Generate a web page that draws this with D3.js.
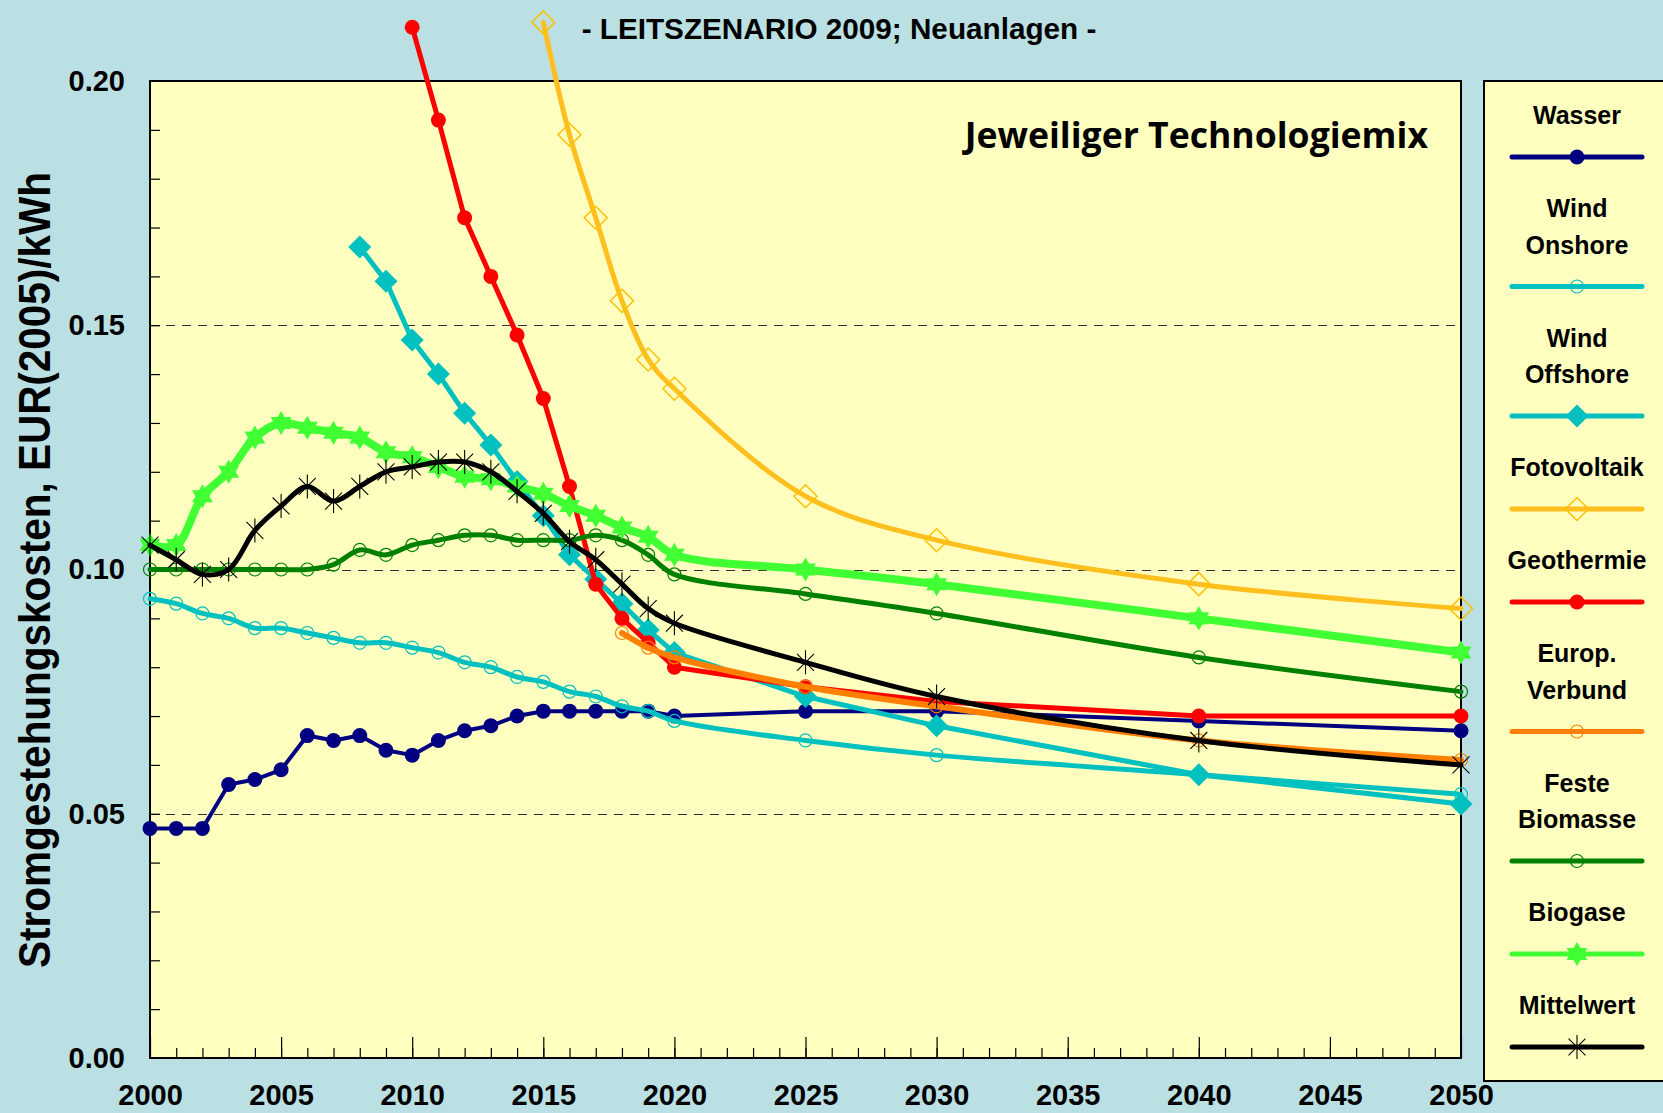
<!DOCTYPE html>
<html>
<head>
<meta charset="utf-8">
<script src="https://cdn.jsdelivr.net/npm/d3@7"></script>
<style>
  body { margin: 0; background: #BBE0E3; }
  svg { display: block; }
  .tick text { font-family: "Liberation Sans", Arial, sans-serif; font-weight: bold; font-size: 29px; fill: #000; }
</style>
</head>
<body>
<div id="chart"></div>
<script>
// years on the x axis (annual until 2020, then scenario steps)
var years = [2000, 2001, 2002, 2003, 2004, 2005, 2006, 2007, 2008, 2009, 2010,
  2011, 2012, 2013, 2014, 2015, 2016, 2017, 2018, 2019, 2020, 2025, 2030, 2040, 2050];

// EUR(2005)/kWh
var wasser = [0.047, 0.047, 0.047, 0.056, 0.057, 0.059, 0.066, 0.065, 0.066, 0.063, 0.062,
  0.065, 0.067, 0.068, 0.070, 0.071, 0.071, 0.071, 0.071, 0.071, 0.070, 0.071, 0.071, 0.069, 0.067];
var windOnshore = [0.094, 0.093, 0.091, 0.090, 0.088, 0.088, 0.087, 0.086, 0.085, 0.085, 0.084,
  0.083, 0.081, 0.080, 0.078, 0.077, 0.075, 0.074, 0.072, 0.071, 0.069, 0.065, 0.062, 0.058, 0.054];
var windOffshore = [null, null, null, null, null, null, null, null, 0.166, 0.159, 0.147,
  0.140, 0.132, 0.1255, 0.118, 0.111, 0.103, 0.098, 0.093, 0.0876, 0.083, 0.074, 0.068, 0.058, 0.052];
var fotovoltaik = [null, null, null, null, null, null, null, null, null, null, null,
  null, null, null, null, 0.212, 0.189, 0.172, 0.155, 0.143, 0.137, 0.115, 0.106, 0.097, 0.092];
var geothermie = [null, null, null, null, null, null, null, null, null, null, 0.211,
  0.192, 0.172, 0.160, 0.148, 0.135, 0.117, 0.097, 0.090, 0.085, 0.080, 0.076, 0.073, 0.070, 0.070];
var europVerbund = [null, null, null, null, null, null, null, null, null, null, null,
  null, null, null, null, null, null, null, 0.087, 0.084, 0.082, 0.076, 0.072, 0.065, 0.061];
var festeBiomasse = [0.100, 0.100, 0.100, 0.100, 0.100, 0.100, 0.100, 0.101, 0.104, 0.103, 0.105,
  0.106, 0.107, 0.107, 0.106, 0.106, 0.106, 0.107, 0.106, 0.103, 0.099, 0.095, 0.091, 0.082, 0.075];
var biogase = [0.105, 0.105, 0.115, 0.120, 0.127, 0.130, 0.129, 0.128, 0.127, 0.124, 0.123,
  0.121, 0.119, 0.1185, 0.117, 0.1155, 0.113, 0.111, 0.1086, 0.1067, 0.103, 0.100, 0.097, 0.090, 0.083];
var mittelwert = [0.105, 0.102, 0.099, 0.100, 0.108, 0.113, 0.117, 0.114, 0.117, 0.120, 0.121,
  0.122, 0.122, 0.120, 0.116, 0.1115, 0.1057, 0.102, 0.097, 0.092, 0.089, 0.081, 0.074, 0.065, 0.060];

// tick labels
var xTicks = [2000, 2005, 2010, 2015, 2020, 2025, 2030, 2035, 2040, 2045, 2050];
var yTicks = [0.00, 0.05, 0.10, 0.15, 0.20];

var margin = {
  top: 81,
  right: 202,
  bottom: 55,
  left: 150
};
var fullWidth = 1663;
var fullHeight = 1113;
var width = fullWidth - margin.left - margin.right;   // 1311
var height = fullHeight - margin.top - margin.bottom; // 977

// marker shapes (size = radius squared)
var markCircle = { draw: function(ctx, size) {
  var r = Math.sqrt(size);
  ctx.moveTo(r, 0); ctx.arc(0, 0, r, 0, 2 * Math.PI);
}};
var markDiamond = { draw: function(ctx, size) {
  var r = Math.sqrt(size);
  ctx.moveTo(0, -r); ctx.lineTo(r, 0); ctx.lineTo(0, r); ctx.lineTo(-r, 0); ctx.closePath();
}};
var markStar = { draw: function(ctx, size) {
  var r = Math.sqrt(size);
  for (var k = 0; k < 12; k++) {
    var a = (-90 + k * 30) * Math.PI / 180;
    var rr = k % 2 == 0 ? r : r * 0.58;
    if (k == 0) ctx.moveTo(rr * Math.cos(a), rr * Math.sin(a));
    else ctx.lineTo(rr * Math.cos(a), rr * Math.sin(a));
  }
  ctx.closePath();
}};
var markAsterisk = { draw: function(ctx, size) {
  var r = Math.sqrt(size);
  ctx.moveTo(0, -r); ctx.lineTo(0, r);
  var dx = r * Math.cos(Math.PI / 4), dy = r * Math.sin(Math.PI / 4);
  ctx.moveTo(-dx, -dy); ctx.lineTo(dx, dy);
  ctx.moveTo(-dx, dy); ctx.lineTo(dx, -dy);
}};

var series = [
  { name: ["Wasser"], values: wasser, color: "#000080", lw: 4, smooth: false,
    mark: markCircle, r: 7.5, fill: "#000080", stroke: "none", sw: 0 },
  { name: ["Wind", "Onshore"], values: windOnshore, color: "#00C0C0", lw: 5, smooth: true,
    mark: markCircle, r: 6.5, fill: "none", stroke: "#00C0C0", sw: 1.2 },
  { name: ["Wind", "Offshore"], values: windOffshore, color: "#00C0C0", lw: 5, smooth: false,
    mark: markDiamond, r: 11.5, fill: "#00C0C0", stroke: "none", sw: 0 },
  { name: ["Fotovoltaik"], values: fotovoltaik, color: "#FFBF1F", lw: 5, smooth: true,
    mark: markDiamond, r: 11.5, fill: "none", stroke: "#FFC000", sw: 1.5 },
  { name: ["Geothermie"], values: geothermie, color: "#FF0000", lw: 5, smooth: false,
    mark: markCircle, r: 7.5, fill: "#FF0000", stroke: "none", sw: 0 },
  { name: ["Europ.", "Verbund"], values: europVerbund, color: "#FF8000", lw: 6, smooth: true,
    mark: markCircle, r: 6.5, fill: "none", stroke: "#FF8000", sw: 1.2 },
  { name: ["Feste", "Biomasse"], values: festeBiomasse, color: "#008000", lw: 5, smooth: true,
    mark: markCircle, r: 6.5, fill: "none", stroke: "#008000", sw: 1.2 },
  { name: ["Biogase"], values: biogase, color: "#40FF33", lw: 8, smooth: true,
    mark: markStar, r: 12, fill: "#40FF33", stroke: "none", sw: 0 },
  { name: ["Mittelwert"], values: mittelwert, color: "#000000", lw: 5, smooth: true,
    mark: markAsterisk, r: 12, fill: "none", stroke: "#000000", sw: 1.1 }
];

var svg = d3.select("#chart").append("svg")
  .attr("width", fullWidth)
  .attr("height", fullHeight)
  .style("font-family", "'Liberation Sans', Arial, sans-serif");

svg.append("rect")
  .attr("width", fullWidth).attr("height", fullHeight)
  .attr("fill", "#BBE0E3");

// legend box (runs off the right edge)
svg.append("rect")
  .attr("x", 1484).attr("y", margin.top)
  .attr("width", 240).attr("height", 1000)
  .attr("fill", "#FFFFC0")
  .attr("stroke", "#000").attr("stroke-width", 2);

var g = svg.append("g")
  .attr("transform", "translate(" + margin.left + "," + margin.top + ")");

g.append("rect")
  .attr("width", width).attr("height", height)
  .attr("fill", "#FFFFC0");

var x = d3.scaleLinear().domain([2000, 2050]).range([0, width]);
var y = d3.scaleLinear().domain([0, 0.2]).range([height, 0]);

// dashed gridlines
g.selectAll(".grid")
  .data([0.05, 0.10, 0.15])
  .enter().append("line")
  .attr("x1", 0).attr("x2", width)
  .attr("y1", function(d) { return Math.round(y(d)) + 0.5; })
  .attr("y2", function(d) { return Math.round(y(d)) + 0.5; })
  .attr("stroke", "#333")
  .attr("stroke-width", 1)
  .attr("stroke-dasharray", "9,7");

// minor ticks (inward)
g.append("g")
  .attr("transform", "translate(0," + height + ")")
  .call(d3.axisBottom(x).tickValues(d3.range(2001, 2050)).tickSize(-10).tickFormat(""))
  .call(function(a) { a.select(".domain").remove(); });

g.append("g")
  .call(d3.axisLeft(y).tickValues(d3.range(1, 20).map(function(i) { return i / 100; })).tickSize(-10).tickFormat(""))
  .call(function(a) { a.select(".domain").remove(); });

// major ticks + labels
g.append("g")
  .attr("transform", "translate(0," + height + ")")
  .call(d3.axisBottom(x).tickValues(xTicks).tickSize(-21).tickPadding(26).tickFormat(d3.format("d")))
  .call(function(a) { a.select(".domain").remove(); });

g.append("g")
  .call(d3.axisLeft(y).tickValues(yTicks).tickSize(0).tickPadding(25).tickFormat(d3.format(".2f")))
  .call(function(a) { a.select(".domain").remove(); });

g.selectAll(".tick line").attr("stroke", "#000").attr("stroke-width", 1.2);

// plot frame
g.append("rect")
  .attr("width", width).attr("height", height)
  .attr("fill", "none")
  .attr("stroke", "#000").attr("stroke-width", 2);

// series
series.forEach(function(s) {
  var pts = [];
  years.forEach(function(yr, i) {
    if (s.values[i] != null) pts.push({ year: yr, v: s.values[i] });
  });

  var line = d3.line()
    .x(function(d) { return x(d.year); })
    .y(function(d) { return y(d.v); })
    .curve(s.smooth ? d3.curveCatmullRom.alpha(0.5) : d3.curveLinear);

  g.append("path")
    .attr("d", line(pts))
    .attr("fill", "none")
    .attr("stroke", s.color)
    .attr("stroke-width", s.lw)
    .attr("stroke-linejoin", "round")
    .attr("stroke-linecap", "round");

  g.selectAll(null)
    .data(pts)
    .enter().append("path")
    .attr("transform", function(d) { return "translate(" + x(d.year) + "," + y(d.v) + ")"; })
    .attr("d", d3.symbol().type(s.mark).size(s.r * s.r))
    .attr("fill", s.fill)
    .attr("stroke", s.stroke)
    .attr("stroke-width", s.sw);
});

// legend
var legX = 1577;
var lineY = 157;
series.forEach(function(s, i) {
  if (i > 0) lineY += 93 + 36.5 * (s.name.length - 1);
  s.name.forEach(function(t, j) {
    svg.append("text")
      .attr("x", legX)
      .attr("y", lineY - 33 - 36.5 * (s.name.length - 1 - j))
      .attr("text-anchor", "middle")
      .style("font-weight", "bold")
      .style("font-size", "25px")
      .text(t);
  });
  svg.append("line")
    .attr("x1", 1512).attr("x2", 1642)
    .attr("y1", lineY).attr("y2", lineY)
    .attr("stroke", s.color)
    .attr("stroke-width", 5)
    .attr("stroke-linecap", "round");
  svg.append("path")
    .attr("transform", "translate(" + legX + "," + lineY + ")")
    .attr("d", d3.symbol().type(s.mark).size(s.r * s.r))
    .attr("fill", s.fill)
    .attr("stroke", s.stroke)
    .attr("stroke-width", s.sw);
});

// titles
svg.append("text")
  .attr("x", 839).attr("y", 39)
  .attr("text-anchor", "middle")
  .style("font-weight", "bold")
  .style("font-size", "29.7px")
  .text("- LEITSZENARIO 2009; Neuanlagen -");

svg.append("text")
  .attr("x", 1428).attr("y", 148)
  .attr("text-anchor", "end")
  .style("font-family", "'Open Sans', 'Noto Sans', sans-serif")
  .style("font-weight", "bold")
  .style("font-size", "35.6px")
  .text("Jeweiliger Technologiemix");

// y axis title: tall, slightly narrow lettering
svg.append("text")
  .attr("transform", "translate(50,570) rotate(-90)")
  .attr("text-anchor", "middle")
  .attr("textLength", 796)
  .attr("lengthAdjust", "spacingAndGlyphs")
  .style("font-weight", "bold")
  .style("font-size", "44px")
  .text("Stromgestehungskosten, EUR(2005)/kWh");
</script>
</body>
</html>
